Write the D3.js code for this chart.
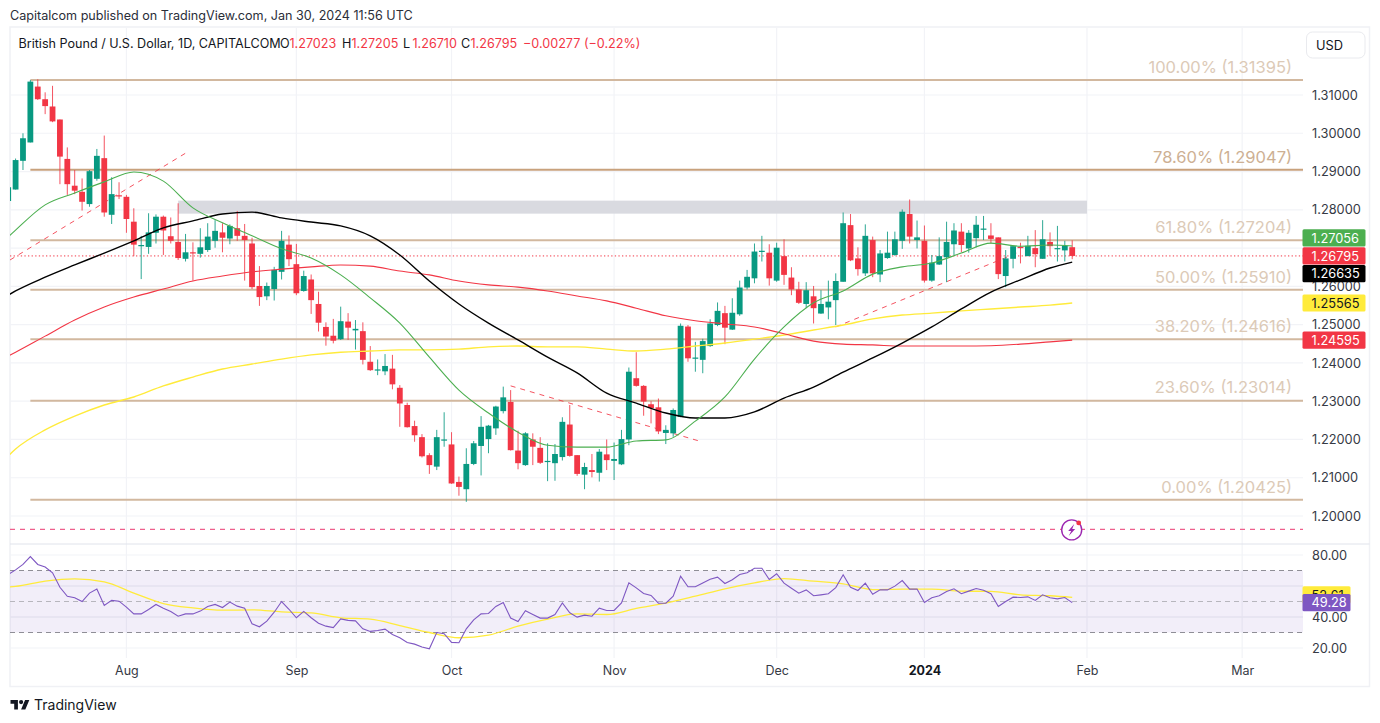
<!DOCTYPE html>
<html><head><meta charset="utf-8">
<style>html,body{margin:0;padding:0;background:#fff}svg{display:block}text{font-family:Inter,"Noto Sans",sans-serif}</style>
<script src="https://cdn.jsdelivr.net/npm/d3@7"></script></head><body>
<script>
// [open, high, low, close] per trading day
const ohlcRows=[
[1.2823,1.2865,1.2815,1.2859],[1.2853,1.2934,1.2853,1.2930],[1.2928,1.3000,1.2904,1.2987],[1.2976,1.3139,1.2976,1.3135],[1.3122,1.3141,1.3087,1.3089],
[1.3089,1.3107,1.3050,1.3071],[1.3070,1.3124,1.3029,1.3031],[1.3036,1.3036,1.2867,1.2939],[1.2933,1.2963,1.2839,1.2867],[1.2863,1.2904,1.2841,1.2850],
[1.2847,1.2882,1.2798,1.2821],[1.2815,1.2904,1.2808,1.2901],[1.2881,1.2959,1.2876,1.2941],[1.2935,1.2994,1.2782,1.2793],[1.2787,1.2885,1.2763,1.2841],
[1.2838,1.2872,1.2828,1.2835],[1.2834,1.2839,1.2740,1.2776],[1.2769,1.2804,1.2679,1.2709],[1.2705,1.2732,1.2619,1.2708],[1.2703,1.2791,1.2685,1.2741],
[1.2740,1.2788,1.2712,1.2782],[1.2782,1.2785,1.2682,1.2746],[1.2731,1.2780,1.2712,1.2719],[1.2716,1.2817,1.2669,1.2674],[1.2672,1.2737,1.2665,1.2689],
[1.2689,1.2715,1.2615,1.2686],[1.2685,1.2752,1.2675,1.2702],[1.2695,1.2765,1.2690,1.2730],[1.2719,1.2773,1.2701,1.2745],[1.2741,1.2765,1.2689,1.2727],
[1.2725,1.2762,1.2710,1.2758],[1.2752,1.2797,1.2719,1.2732],[1.2732,1.2763,1.2615,1.2721],[1.2712,1.2727,1.2593,1.2598],[1.2601,1.2653,1.2549,1.2572],
[1.2574,1.2610,1.2564,1.2601],[1.2593,1.2651,1.2563,1.2643],[1.2638,1.2745,1.2618,1.2719],[1.2709,1.2733,1.2653,1.2671],[1.2658,1.2711,1.2577,1.2582],
[1.2588,1.2641,1.2586,1.2627],[1.2618,1.2631,1.2528,1.2564],[1.2554,1.2586,1.2482,1.2505],[1.2494,1.2506,1.2445,1.2469],[1.2471,1.2515,1.2451,1.2458],
[1.2462,1.2547,1.2460,1.2509],[1.2508,1.2530,1.2460,1.2492],[1.2485,1.2512,1.2435,1.2489],[1.2483,1.2506,1.2396,1.2408],[1.2403,1.2444,1.2379,1.2381],
[1.2380,1.2409,1.2368,1.2383],[1.2378,1.2423,1.2368,1.2392],[1.2385,1.2421,1.2331,1.2344],[1.2335,1.2342,1.2233,1.2294],[1.2290,1.2296,1.2231,1.2232],
[1.2235,1.2249,1.2194,1.2211],[1.2206,1.2214,1.2153,1.2156],[1.2159,1.2164,1.2110,1.2133],[1.2129,1.2225,1.2120,1.2206],[1.2197,1.2271,1.2181,1.2200],
[1.2187,1.2219,1.2084,1.2085],[1.2089,1.2103,1.2053,1.2076],[1.2070,1.2177,1.2037,1.2136],[1.2136,1.2196,1.2133,1.2190],[1.2183,1.2261,1.2106,1.2233],
[1.2201,1.2238,1.2164,1.2236],[1.2229,1.2288,1.2212,1.2286],[1.2274,1.2338,1.2268,1.2310],[1.2298,1.2329,1.2171,1.2172],[1.2171,1.2223,1.2122,1.2138],
[1.2133,1.2219,1.2131,1.2216],[1.2200,1.2216,1.2133,1.2181],[1.2178,1.2206,1.2136,1.2139],[1.2142,1.2190,1.2091,1.2144],[1.2138,1.2188,1.2092,1.2162],
[1.2154,1.2258,1.2145,1.2246],[1.2239,1.2290,1.2155,1.2157],[1.2159,1.2159,1.2105,1.2110],[1.2108,1.2139,1.2070,1.2128],[1.2120,1.2162,1.2101,1.2115],
[1.2113,1.2175,1.2090,1.2168],[1.2161,1.2200,1.2120,1.2146],[1.2144,1.2192,1.2094,1.2149],[1.2135,1.2225,1.2133,1.2201],[1.2200,1.2388,1.2185,1.2377],
[1.2360,1.2428,1.2338,1.2340],[1.2340,1.2342,1.2262,1.2299],[1.2292,1.2300,1.2242,1.2282],[1.2284,1.2307,1.2214,1.2221],[1.2217,1.2237,1.2188,1.2225],
[1.2216,1.2281,1.2207,1.2277],[1.2259,1.2503,1.2258,1.2497],[1.2495,1.2499,1.2403,1.2412],[1.2411,1.2455,1.2377,1.2414],[1.2408,1.2463,1.2373,1.2457],
[1.2444,1.2514,1.2442,1.2503],[1.2499,1.2558,1.2496,1.2536],[1.2530,1.2549,1.2449,1.2492],[1.2487,1.2569,1.2486,1.2531],[1.2527,1.2615,1.2523,1.2597],
[1.2597,1.2643,1.2592,1.2625],[1.2621,1.2712,1.2608,1.2691],[1.2691,1.2732,1.2665,1.2693],[1.2688,1.2710,1.2602,1.2621],[1.2615,1.2714,1.2612,1.2701],
[1.2679,1.2723,1.2604,1.2630],[1.2623,1.2650,1.2577,1.2592],[1.2592,1.2612,1.2554,1.2557],[1.2554,1.2611,1.2543,1.2590],[1.2574,1.2601,1.2503,1.2543],
[1.2529,1.2590,1.2528,1.2554],[1.2545,1.2615,1.2514,1.2560],[1.2564,1.2634,1.2499,1.2614],[1.2612,1.2793,1.2612,1.2765],[1.2760,1.2789,1.2666,1.2668],
[1.2673,1.2702,1.2628,1.2645],[1.2634,1.2762,1.2627,1.2732],[1.2721,1.2730,1.2624,1.2634],[1.2631,1.2695,1.2611,1.2686],[1.2674,1.2743,1.2672,1.2688],
[1.2682,1.2743,1.2680,1.2723],[1.2719,1.2801,1.2698,1.2795],[1.2789,1.2827,1.2712,1.2730],[1.2721,1.2772,1.2699,1.2728],[1.2719,1.2759,1.2610,1.2615],
[1.2615,1.2682,1.2612,1.2662],[1.2657,1.2728,1.2656,1.2679],[1.2676,1.2769,1.2611,1.2716],[1.2710,1.2765,1.2682,1.2746],[1.2743,1.2765,1.2689,1.2708],
[1.2699,1.2747,1.2688,1.2740],[1.2726,1.2784,1.2702,1.2761],[1.2748,1.2784,1.2721,1.2751],[1.2733,1.2765,1.2712,1.2724],[1.2728,1.2728,1.2619,1.2632],
[1.2627,1.2695,1.2598,1.2673],[1.2672,1.2705,1.2647,1.2705],[1.2703,1.2714,1.2660,1.2700],[1.2679,1.2732,1.2679,1.2706],[1.2700,1.2747,1.2650,1.2684],
[1.2672,1.2773,1.2672,1.2723],[1.2716,1.2741,1.2679,1.2705],[1.2699,1.2758,1.2665,1.2700],[1.2694,1.2719,1.2665,1.2706],[1.27023,1.27205,1.26710,1.26795]];

// moving averages, read at these bar numbers
const maBars=[1,2,6,10,14,18,22,26,30,34,38,42,46,50,54,58,62,66,70,74,78,82,86,90,94,98,102,106,110,114,118,122,126,130,134,138,142,145];
const maGreen=[1.2729,1.2747,1.2813,1.2844,1.2873,1.2899,1.2875,1.2805,1.2766,1.2732,1.2698,1.2674,1.2630,1.2570,1.2504,1.2415,1.2329,1.2269,1.2219,1.2185,1.2180,1.2180,1.2196,1.2199,1.2248,1.2311,1.2410,1.2494,1.2557,1.2588,1.2632,1.2651,1.2661,1.2687,1.2713,1.2705,1.2708,1.27056];
const maBlack=[1.2577,1.2588,1.2624,1.2656,1.2687,1.2719,1.2753,1.2771,1.2789,1.2794,1.2779,1.2768,1.2758,1.2732,1.2682,1.2614,1.2554,1.2504,1.2460,1.2415,1.2374,1.2321,1.2295,1.2269,1.2256,1.2256,1.2272,1.2308,1.2337,1.2376,1.2413,1.2452,1.2494,1.2541,1.2585,1.2617,1.2648,1.26635];
const maRed=[1.2418,1.2428,1.2470,1.2512,1.2546,1.2572,1.2593,1.2614,1.2627,1.2638,1.2645,1.2651,1.2656,1.2653,1.2640,1.2630,1.2614,1.2604,1.2598,1.2588,1.2575,1.2562,1.2543,1.2523,1.2510,1.2502,1.2494,1.2476,1.2457,1.2449,1.2447,1.2444,1.2444,1.2444,1.2445,1.2449,1.2455,1.24595];
const maYellow=[1.2157,1.2175,1.2225,1.2261,1.2290,1.2311,1.2340,1.2363,1.2384,1.2397,1.2410,1.2421,1.2428,1.2431,1.2434,1.2434,1.2436,1.2442,1.2444,1.2442,1.2442,1.2436,1.2431,1.2436,1.2444,1.2452,1.2462,1.2473,1.2486,1.2499,1.2515,1.2525,1.2530,1.2536,1.2541,1.2546,1.2551,1.25565];

// RSI per bar, and its moving average at maBars
const rsi=[67.4,70.4,73.9,79.0,73.9,72.2,68.5,59.2,53.4,52.4,50.0,55.4,58.0,47.4,50.7,50.2,46.4,42.0,42.0,44.8,48.1,45.7,43.6,40.5,42.0,42.0,43.8,46.8,48.1,46.1,49.6,47.0,45.7,35.6,33.7,37.3,43.1,50.0,45.0,39.5,43.6,39.5,36.0,34.1,33.2,38.8,37.8,37.5,32.4,30.7,31.3,32.2,28.7,26.6,23.6,22.5,20.6,19.5,30.0,29.2,23.6,23.4,32.4,38.2,42.0,42.3,46.8,49.4,39.3,37.1,44.0,41.6,39.3,39.3,41.6,49.1,42.7,39.9,41.2,40.5,45.7,44.2,44.2,49.1,62.0,58.8,55.2,53.9,48.9,48.9,53.4,66.3,59.5,59.5,62.0,64.4,65.7,61.6,64.0,67.4,68.5,71.5,71.5,64.2,67.9,61.8,58.6,55.4,57.5,53.7,54.3,55.0,59.0,67.2,59.2,57.1,61.8,54.7,57.5,57.5,59.9,63.5,58.0,58.0,49.4,52.4,53.7,56.5,58.2,55.0,56.7,58.4,57.3,55.0,46.8,50.0,52.8,52.6,53.0,50.7,54.3,52.4,51.7,52.6,49.28];
const rsiMa=[59.3,59.7,63.1,64.6,62.7,55.4,48.7,45.9,44.4,44.6,43.3,42.7,39.5,38.6,34.5,30.0,26.6,28.3,34.1,38.6,42.0,41.6,45.5,48.9,53.4,58.2,62.0,64.8,63.1,61.4,57.7,58.0,58.0,56.7,56.5,54.3,53.7,52.61];

// axis content
const priceTicks=[1.31,1.30,1.29,1.28,1.27,1.26,1.25,1.24,1.23,1.22,1.21,1.20];
const priceTickHidden=[1.27];
const rsiTicks=[80,60,40,20];
const rsiTickHidden=[60];
const rsiBands=[70,50,30];
const monthBars=[17,40,61,83,105,125,147,168];
const monthLabels=["Aug","Sep","Oct","Nov","Dec","2024","Feb","Mar"];

// Fibonacci retracement
const fibLabels=["100.00%","78.60%","61.80%","50.00%","38.20%","23.60%","0.00%"];
const fibValues=[1.31395,1.29047,1.27204,1.25910,1.24616,1.23014,1.20425];
const fibStrong=[0,1,0,0,0,0,0];

// drawings
const zoneBars=[24,147], zonePrices=[1.2824,1.2790];
const trendA=[[1.25,1.2669],[25,1.2948]];
const trendB=[[69,1.2340],[94.5,1.2196]];
const trendC=[[113,1.2494],[138,1.2691]];
const eventPrice=1.1965, eventBar=145;

// price tags: value, colour, text colour, vertical nudge where the tags would collide
const tagValues=[1.27056,1.26795,1.26635,1.25565,1.24595];
const tagFills=["#4caf50","#f23645","#000000","#ffeb3b","#f23645"];
const tagInks=["#fff","#fff","#fff","#131722","#fff"];
const tagNudges=[-8,0,11.5,0,0];
const rsiTagValues=[52.61,49.28];
const rsiTagFills=["#ffeb3b","#7e57c2"];
const rsiTagInks=["#131722","#fff"];
const rsiTagNudges=[-2.5,0];

const W=1380,H=723,paneL=10,paneR=1303,paneT=28,paneB=544,rsiB=658,frameR=1369.5,frameB=686.5;
const UP="#089981",DOWN="#f23645",INK="#363a45",GRID="#f2f3f7";

const x=d3.scaleLinear().domain([1,145]).range([8.2,1072.2]);
const y=d3.scaleLinear().domain([1.20,1.31]).range([516,95]);
const yR=d3.scaleLinear().domain([20,80]).range([648,555]);

const svg=d3.select("body").append("svg").attr("width",W).attr("height",H);
const defs=svg.append("defs");
defs.append("clipPath").attr("id","cp").append("rect").attr("x",paneL).attr("y",paneT).attr("width",paneR-paneL).attr("height",paneB-paneT);
defs.append("clipPath").attr("id","cr").append("rect").attr("x",paneL).attr("y",paneB).attr("width",paneR-paneL).attr("height",rsiB-paneB);

// frame
svg.append("rect").attr("x",paneL).attr("y",paneT-1).attr("width",frameR-paneL).attr("height",frameB-paneT+1).attr("fill","none").attr("stroke","#f0f1f5").attr("stroke-width",1.5);

// gridlines
const grid=svg.append("g").attr("stroke",GRID).attr("stroke-width",1.2);
grid.selectAll(".h").data(priceTicks).join("line").attr("x1",paneL).attr("x2",paneR).attr("y1",d=>y(d)).attr("y2",d=>y(d));
grid.selectAll(".r").data(rsiTicks).join("line").attr("class","r").attr("x1",paneL).attr("x2",paneR).attr("y1",d=>yR(d)).attr("y2",d=>yR(d));
grid.selectAll(".v").data(monthBars).join("line").attr("class","v").attr("x1",d=>x(d)).attr("x2",d=>x(d)).attr("y1",paneT).attr("y2",rsiB);
svg.append("line").attr("x1",paneL).attr("x2",frameR).attr("y1",paneB).attr("y2",paneB).attr("stroke","#e0e3eb").attr("stroke-width",1);

// RSI pane
const rp=svg.append("g").attr("clip-path","url(#cr)");
rp.append("rect").attr("x",paneL).attr("width",paneR-paneL).attr("y",yR(rsiBands[0])).attr("height",yR(rsiBands[2])-yR(rsiBands[0])).attr("fill","#7e57c2").attr("fill-opacity",.1);
rp.selectAll(".rt").data(rsiTicks.filter(d=>d==60||d==40)).join("line").attr("x1",paneL).attr("x2",paneR).attr("y1",d=>yR(d)).attr("y2",d=>yR(d)).attr("stroke","#e4e1ee").attr("stroke-width",1);
rp.selectAll(".rb").data(rsiBands).join("line").attr("x1",paneL).attr("x2",paneR).attr("y1",d=>yR(d)).attr("y2",d=>yR(d)).attr("stroke",d=>d==50?"#b7b6bd":"#8f8e96").attr("stroke-width",1.1).attr("stroke-dasharray","5 4");
rp.append("path").attr("fill","none").attr("stroke","#ffeb3b").attr("stroke-width",1.3)
  .attr("d",d3.line().x((d,i)=>x(maBars[i])).y(d=>yR(d)).curve(d3.curveMonotoneX)(rsiMa));
rp.append("path").attr("fill","none").attr("stroke","#7e57c2").attr("stroke-width",1.1)
  .attr("d",d3.line().x((d,i)=>x(i+1)).y(d=>yR(d))(rsi));

// main pane
const mp=svg.append("g").attr("clip-path","url(#cp)");
// Fib
mp.selectAll(".fib").data(fibValues).join("line").attr("x1",x(4)).attr("x2",paneR).attr("y1",d=>y(d)).attr("y2",d=>y(d))
  .attr("stroke",(d,i)=>fibStrong[i]?"#c8a17c":"#d2b89f").attr("stroke-width",(d,i)=>fibStrong[i]?2.2:2);
// zone
mp.append("rect").attr("x",x(zoneBars[0])).attr("width",x(zoneBars[1])-x(zoneBars[0])).attr("y",y(zonePrices[0])).attr("height",y(zonePrices[1])-y(zonePrices[0])).attr("fill","#d9dae0");
// last price & event lines
mp.append("line").attr("x1",paneL).attr("x2",paneR).attr("y1",y(ohlcRows[144][3])).attr("y2",y(ohlcRows[144][3])).attr("stroke",DOWN).attr("stroke-width",1).attr("stroke-dasharray","1.3 2.3");
mp.append("line").attr("x1",paneL).attr("x2",paneR).attr("y1",y(eventPrice)).attr("y2",y(eventPrice)).attr("stroke","#ee5f8c").attr("stroke-width",1.4).attr("stroke-dasharray","5 5");
// trend lines
[trendA,trendB,trendC].forEach(t=>{
  mp.append("line").attr("x1",x(t[0][0])).attr("y1",y(t[0][1])).attr("x2",x(t[1][0])).attr("y2",y(t[1][1])).attr("stroke",DOWN).attr("stroke-width",1).attr("stroke-opacity",.85).attr("stroke-dasharray","5 5");
});
// wicks & bodies
const cs=mp.selectAll(".c").data(ohlcRows).join("g");
cs.append("line").attr("x1",(d,i)=>x(i+1)).attr("x2",(d,i)=>x(i+1)).attr("y1",d=>y(d[1])).attr("y2",d=>y(d[2])).attr("stroke",d=>d[3]>=d[0]?UP:DOWN).attr("stroke-width",1).attr("stroke-opacity",.85);
cs.append("rect").attr("x",(d,i)=>x(i+1)-2.9).attr("width",5.8).attr("y",d=>y(Math.max(d[0],d[3]))).attr("height",d=>Math.max(1.2,Math.abs(y(d[0])-y(d[3])))).attr("fill",d=>d[3]>=d[0]?UP:DOWN);
// MAs
const maLine=d3.line().x((d,i)=>x(maBars[i])).y(d=>y(d)).curve(d3.curveMonotoneX);
[[maYellow,"#ffeb3b",1.4],[maRed,"#f23645",1.1],[maBlack,"#000",1.4],[maGreen,"#4caf50",1.1]].forEach(a=>{
  mp.append("path").attr("fill","none").attr("stroke",a[1]).attr("stroke-width",a[2]).attr("d",maLine(a[0]));
});
// Fib labels
svg.append("g").selectAll("text").data(fibValues).join("text").attr("x",1292).attr("y",d=>y(d)-13).attr("dy","0.35em").attr("text-anchor","end").attr("font-size",16.5)
  .attr("fill",(d,i)=>fibStrong[i]?"#cdb093":"#dccab7").text((d,i)=>`${fibLabels[i]} (${d.toFixed(5)})`);
// event icon
const ev=svg.append("g").attr("transform",`translate(${x(eventBar)-.5},${y(eventPrice)+.5})`);
ev.append("circle").attr("r",10).attr("fill","#fff").attr("stroke","#9c27b0").attr("stroke-width",1.4);
ev.append("path").attr("d","M2.5,-6 L-3.5,1 L-0.5,1 L-3,6 L3.5,-1 L0.5,-1 Z").attr("fill","#9c27b0");
ev.append("circle").attr("cx",7).attr("cy",-7).attr("r",2.4).attr("fill",DOWN);

// axes
const axisStyle=g=>{g.select(".domain").remove();g.selectAll(".tick line").remove();g.selectAll("text").attr("font-family","Inter,'Noto Sans',sans-serif").attr("fill",INK);};
svg.append("g").attr("transform","translate(1312,0)").call(d3.axisRight(y).tickValues(priceTicks.filter(d=>!priceTickHidden.includes(d))).tickFormat(d3.format(".5f")).tickSize(0).tickPadding(0)).call(axisStyle).selectAll("text").attr("font-size",12.8);
svg.append("g").attr("transform","translate(1312,0)").call(d3.axisRight(yR).tickValues(rsiTicks.filter(d=>!rsiTickHidden.includes(d))).tickFormat(d3.format(".2f")).tickSize(0).tickPadding(0)).call(axisStyle).selectAll("text").attr("font-size",12.8);
const xa=svg.append("g").attr("transform","translate(0,666)").call(d3.axisBottom(x).tickValues(monthBars).tickFormat((d,i)=>monthLabels[i]).tickSize(0).tickPadding(0)).call(axisStyle);
xa.selectAll("text").attr("font-size",12.5).attr("font-weight",d=>d==125?700:400).attr("fill",d=>d==125?"#131722":INK);

// tags
const tag=(data,fills,inks,nudges,sc,w,fmt)=>{
  const g=svg.append("g").selectAll("g").data(data).join("g").attr("transform",(d,i)=>`translate(${paneR-.5},${sc(d)+nudges[i]})`);
  g.append("rect").attr("x",0).attr("y",-8.6).attr("width",w).attr("height",17.2).attr("rx",1.5).attr("fill",(d,i)=>fills[i]);
  g.append("text").attr("x",9).attr("dy","0.36em").attr("font-size",12.8).attr("fill",(d,i)=>inks[i]).text(fmt);
};
tag(tagValues,tagFills,tagInks,tagNudges,y,63,d3.format(".5f"));
tag(rsiTagValues,rsiTagFills,rsiTagInks,rsiTagNudges,yR,48,d3.format(".2f"));

// USD button
svg.append("rect").attr("x",1306.5).attr("y",32).attr("width",58.5).attr("height",26).attr("rx",6).attr("fill","#fff").attr("stroke","#e9eaee");
svg.append("text").attr("x",1316).attr("y",45).attr("dy","0.36em").attr("font-size",12.8).attr("fill","#131722").text("USD");

// header
svg.append("text").attr("x",10).attr("y",16).attr("dy","0.35em").attr("font-size",12.6).attr("fill","#2a2e39").text("Capitalcom published on TradingView.com, Jan 30, 2024 11:56 UTC");
const hdrLabels=["British Pound / U.S. Dollar, 1D, CAPITALCOM","O","H","L","C"];
const hdrValues=["1.27023","1.27205","1.26710","1.26795"];
const hdrX=[280,342,403,461];
const hdrY=44;
svg.append("text").attr("x",18.5).attr("y",hdrY).attr("dy","0.35em").attr("font-size",12.6).attr("fill","#131722").text(hdrLabels[0]);
hdrX.forEach((hx,i)=>{
  svg.append("text").attr("x",hx).attr("y",hdrY).attr("dy","0.35em").attr("font-size",12.6).attr("fill","#131722").text(hdrLabels[i+1]);
  svg.append("text").attr("x",hx+9.5).attr("y",hdrY).attr("dy","0.35em").attr("font-size",12.6).attr("fill",DOWN).text(hdrValues[i]);
});
svg.append("text").attr("x",523).attr("y",hdrY).attr("dy","0.35em").attr("font-size",12.6).attr("fill",DOWN).text("−0.00277 (−0.22%)");

// footer
svg.append("path").attr("transform","translate(10.5,697.8) scale(0.53)").attr("fill","#131722").attr("d","M14 22H7V11H0V4h14v18zM28 22h-8l7.5-18h8L28 22z");
svg.append("circle").attr("cx",10.5+20*.53).attr("cy",697.8+8*.53).attr("r",2.1).attr("fill","#131722");
svg.append("text").attr("x",34).attr("y",705).attr("dy","0.35em").attr("font-size",14).attr("fill","#131722").text("TradingView");
</script></body></html>
